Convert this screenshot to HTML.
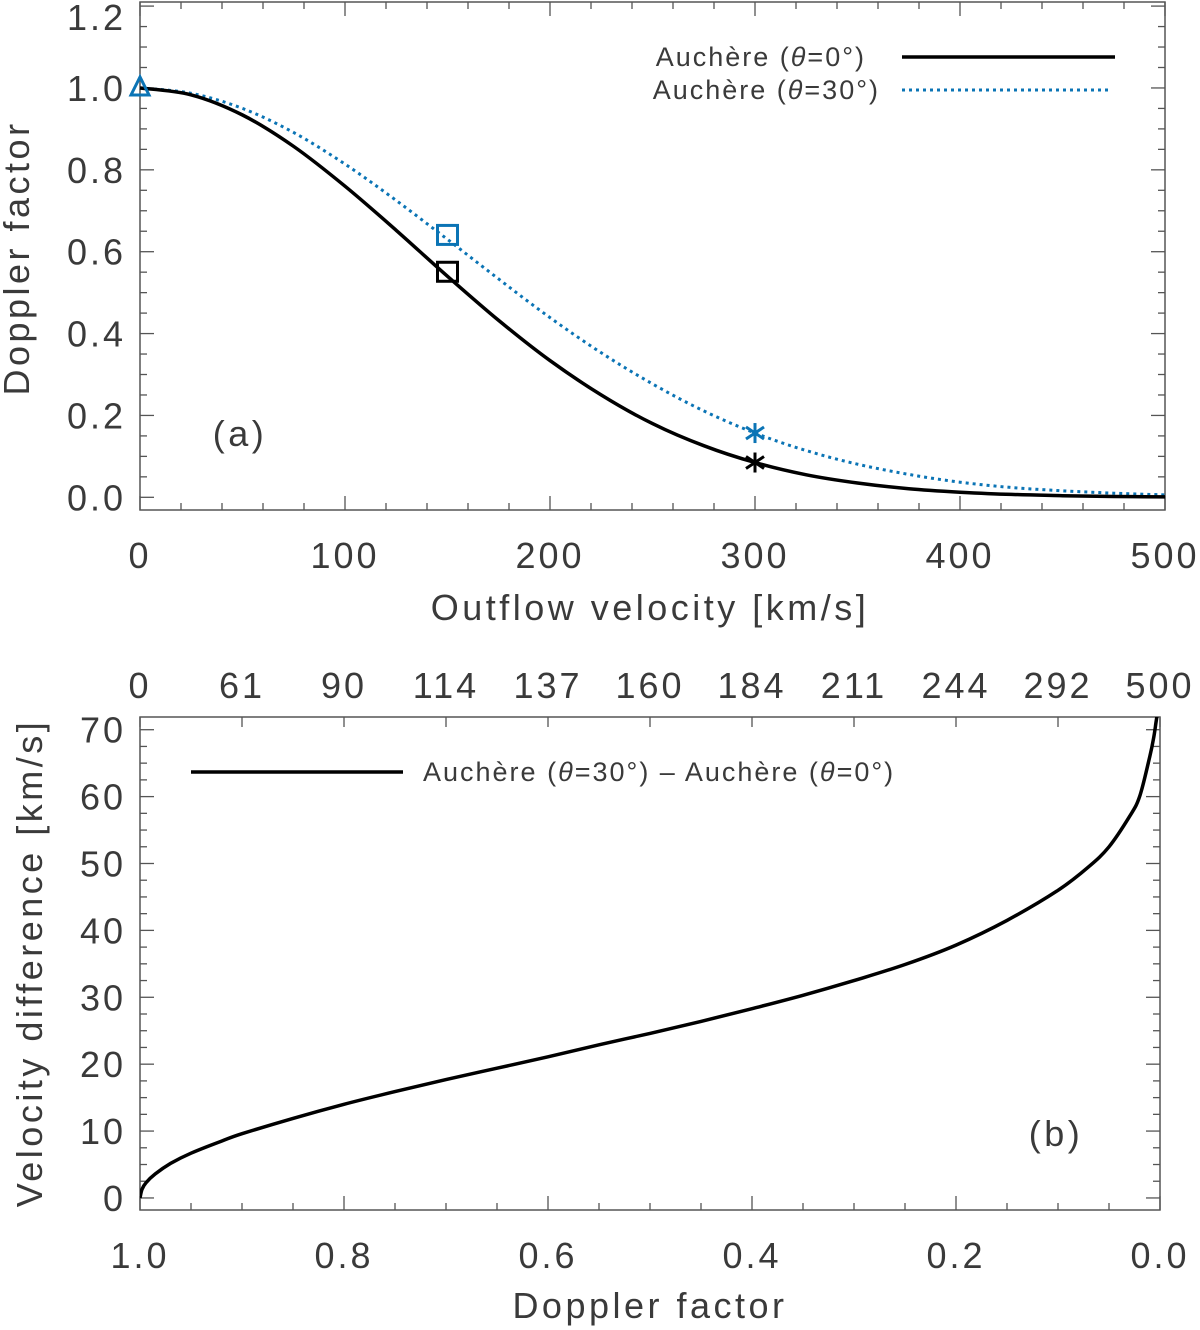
<!DOCTYPE html>
<html><head><meta charset="utf-8"><style>
html,body{margin:0;padding:0;background:#fff;}
svg{display:block;}
text{font-family:"Liberation Sans",sans-serif;fill:#3a3a3a;}
.tk{font-size:36px;letter-spacing:3px;}
.tt{font-size:36px;letter-spacing:3.5px;}
.lg{font-size:27px;letter-spacing:2px;}
</style></head><body>
<svg id="fig" width="1200" height="1330" viewBox="0 0 1200 1330" xmlns="http://www.w3.org/2000/svg">
<g id="pa"></g>
<g id="pb"></g>
</svg>
<script>
// Panel (a) data
const velA = [0,25,50,75,100,125,150,175,200,225,250,275,300,325,350,375,400,425,450,475,500];
const dopp0 = [1,0.983,0.934,0.857,0.760,0.652,0.540,0.432,0.334,0.250,0.180,0.126,0.085,0.055,0.035,0.021,0.0125,0.007,0.004,0.002,0.001];
const dopp30 = [1,0.987,0.950,0.891,0.814,0.725,0.630,0.533,0.439,0.353,0.277,0.211,0.157,0.114,0.081,0.056,0.037,0.024,0.016,0.010,0.006];
const markerVel = [150,300];
const markerD0 = [0.540,0.085];
const markerD30 = [0.630,0.157];
const xTicksA = [0,100,200,300,400,500];
const yTicksA = ['0.0','0.2','0.4','0.6','0.8','1.0','1.2'];
// Panel (b) data
const doppB = [1.0,0.998,0.994,0.985,0.97,0.95,0.92,0.9,0.85,0.8,0.75,0.7,0.65,0.6,0.55,0.5,0.45,0.4,0.35,0.3,0.25,0.2,0.15,0.1,0.07,0.05,0.03,0.02,0.01,0.006,0.004,0.003];
const vdiff = [0,1.3,2.3,3.6,5.16,6.69,8.5,9.6,11.9,14.0,15.9,17.7,19.4,21.1,22.9,24.6,26.4,28.3,30.3,32.5,34.9,37.8,41.5,46.0,49.5,52.5,57,60,66,69,71,72];
const xTicksB = ['1.0','0.8','0.6','0.4','0.2','0.0'];
const topTicksB = ['0','61','90','114','137','160','184','211','244','292','500'];
const yTicksB = [0,10,20,30,40,50,60,70];

const NS='http://www.w3.org/2000/svg';
function mk(parent,tag,attrs){const e=document.createElementNS(NS,tag);for(const k in attrs)e.setAttribute(k,attrs[k]);parent.appendChild(e);return e;}
const BLUE='#0b74b5';
function smooth(xs,ys,fx,fy){const P=xs.map((x,i)=>[fx(x),fy(ys[i])]);let d='M'+P[0][0].toFixed(1)+','+P[0][1].toFixed(1);
 for(let i=0;i<P.length-1;i++){const p0=P[Math.max(0,i-1)],p1=P[i],p2=P[i+1],p3=P[Math.min(P.length-1,i+2)];
  const c1=[p1[0]+(p2[0]-p0[0])/6,p1[1]+(p2[1]-p0[1])/6],c2=[p2[0]-(p3[0]-p1[0])/6,p2[1]-(p3[1]-p1[1])/6];
  d+=` C${c1[0].toFixed(1)},${c1[1].toFixed(1)} ${c2[0].toFixed(1)},${c2[1].toFixed(1)} ${p2[0].toFixed(1)},${p2[1].toFixed(1)}`;}
 return d;}

// ---- Panel A ----
const pa=document.getElementById('pa');
const A={l:140,r:1165,t:2,b:510,x0:0,x1:500,y0:-0.031,y1:1.21};
const ax=v=>A.l+(v-A.x0)/(A.x1-A.x0)*(A.r-A.l);
const ay=v=>A.b-(v-A.y0)/(A.y1-A.y0)*(A.b-A.t);
let f=mk(pa,'rect',{x:A.l,y:A.t,width:A.r-A.l,height:A.b-A.t,fill:'none',stroke:'#555','stroke-width':1.5});


for(let v=0;v<=500;v+=20){const maj=v%100===0;const L=maj?14:7;
 mk(pa,'line',{x1:ax(v),x2:ax(v),y1:A.b,y2:A.b-L,stroke:'#555','stroke-width':1.3});
 mk(pa,'line',{x1:ax(v),x2:ax(v),y1:A.t,y2:A.t+L,stroke:'#555','stroke-width':1.3});}
for(let i=0;i<=24;i++){const v=i*0.05;const maj=i%4===0;const L=maj?14:7;
 mk(pa,'line',{x1:A.l,x2:A.l+L,y1:ay(v),y2:ay(v),stroke:'#555','stroke-width':1.3});
 mk(pa,'line',{x1:A.r,x2:A.r-L,y1:ay(v),y2:ay(v),stroke:'#555','stroke-width':1.3});}
xTicksA.forEach(v=>{const t=mk(pa,'text',{x:ax(v),y:568,'text-anchor':'middle',class:'tk'});t.textContent=v;
 
 });
yTicksA.forEach(s=>{const t=mk(pa,'text',{x:126,y:Math.max(30,ay(parseFloat(s))+13),'text-anchor':'end',class:'tk'});t.textContent=s;
 
 });
let t=mk(pa,'text',{x:650,y:620,'text-anchor':'middle',class:'tt'});t.textContent='Outflow velocity [km/s]';


t=mk(pa,'text',{x:0,y:0,'text-anchor':'middle',class:'tt',transform:'translate(29,258) rotate(-90)'});t.textContent='Doppler factor';


t=mk(pa,'text',{x:240,y:446,'text-anchor':'middle',class:'tt'});t.textContent='(a)';


let p=mk(pa,'path',{d:smooth(velA,dopp30,ax,ay),fill:'none',stroke:BLUE,'stroke-width':3,'stroke-dasharray':'3 4'});


p=mk(pa,'path',{d:smooth(velA,dopp0,ax,ay),fill:'none',stroke:'#000','stroke-width':3.5});


// markers
let m=mk(pa,'path',{d:`M${ax(0)},${ay(1)-11} L${ax(0)+9},${ay(1)+7} L${ax(0)-9},${ay(1)+7} Z`,fill:'none',stroke:BLUE,'stroke-width':3});


function square(x,y,c,name){const e=mk(pa,'rect',{x:x-10,y:y-14,width:20,height:19,fill:'none',stroke:c,'stroke-width':3});
 
 }
function star(x,y,c,name){const g=mk(pa,'g',{stroke:c,'stroke-width':3});
 
 
 [[0,-10,0,10],[-9,-6,9,6],[-9,6,9,-6]].forEach(q=>mk(g,'line',{x1:x+q[0],y1:y+q[1],x2:x+q[2],y2:y+q[3]}));}
square(ax(markerVel[0]),ay(markerD30[0]),BLUE,'square-marker-theta-30');
square(ax(markerVel[0]),ay(markerD0[0]),'#000','square-marker-theta-0');
star(ax(markerVel[1]),ay(markerD30[1]),BLUE,'asterisk-marker-theta-30');
star(ax(markerVel[1]),ay(markerD0[1]),'#000','asterisk-marker-theta-0');
// legend
let lg=mk(pa,'g',{});


t=mk(lg,'text',{x:866,y:66,'text-anchor':'end',class:'lg'});t.innerHTML='Auchère (<tspan font-style="italic">θ</tspan>=0°)';
mk(lg,'line',{x1:902,x2:1115,y1:57,y2:57,stroke:'#000','stroke-width':3.5});
t=mk(lg,'text',{x:880,y:99,'text-anchor':'end',class:'lg'});t.innerHTML='Auchère (<tspan font-style="italic">θ</tspan>=30°)';
mk(lg,'line',{x1:902,x2:1112,y1:90,y2:90,stroke:BLUE,'stroke-width':3,'stroke-dasharray':'3 4'});

// ---- Panel B ----
const pb=document.getElementById('pb');
const B={l:140,r:1160,t:717,b:1210,x0:1,x1:0,y0:-1.8,y1:71.9};
const bx=v=>B.l+(v-B.x0)/(B.x1-B.x0)*(B.r-B.l);
const by=v=>B.b-(v-B.y0)/(B.y1-B.y0)*(B.b-B.t);
f=mk(pb,'rect',{x:B.l,y:B.t,width:B.r-B.l,height:B.b-B.t,fill:'none',stroke:'#555','stroke-width':1.5});


for(let i=0;i<=20;i++){const v=i*0.05;const maj=i%4===0;const L=maj?14:7;
 mk(pb,'line',{x1:bx(v),x2:bx(v),y1:B.b,y2:B.b-L,stroke:'#555','stroke-width':1.3});}
for(let i=0;i<=10;i++){mk(pb,'line',{x1:bx(i/10),x2:bx(i/10),y1:B.t,y2:B.t+10,stroke:'#555','stroke-width':1.3});}
for(let i=0;i<=28;i++){const v=i*2.5;const maj=i%4===0;const L=maj?14:7;
 mk(pb,'line',{x1:B.l,x2:B.l+L,y1:by(v),y2:by(v),stroke:'#555','stroke-width':1.3});
 mk(pb,'line',{x1:B.r,x2:B.r-L,y1:by(v),y2:by(v),stroke:'#555','stroke-width':1.3});}
xTicksB.forEach(s=>{const t=mk(pb,'text',{x:bx(parseFloat(s)),y:1268,'text-anchor':'middle',class:'tk'});t.textContent=s;
 
 });
topTicksB.forEach((s,i)=>{const t=mk(pb,'text',{x:bx(1-i/10),y:698,'text-anchor':'middle',class:'tk'});t.textContent=s;
 
 });
yTicksB.forEach(v=>{const t=mk(pb,'text',{x:126,y:by(v)+13,'text-anchor':'end',class:'tk'});t.textContent=v;
 
 });
t=mk(pb,'text',{x:650,y:1318,'text-anchor':'middle',class:'tt'});t.textContent='Doppler factor';


t=mk(pb,'text',{x:0,y:0,'text-anchor':'middle',class:'tt',transform:'translate(42,963) rotate(-90)'});t.textContent='Velocity difference [km/s]';


t=mk(pb,'text',{x:1056,y:1146,'text-anchor':'middle',class:'tt'});t.textContent='(b)';


mk(pb,'clipPath',{id:'cb'});
mk(document.getElementById('cb'),'rect',{x:B.l,y:B.t,width:B.r-B.l,height:B.b-B.t});
p=mk(pb,'path',{d:smooth(doppB,vdiff,bx,by),fill:'none',stroke:'#000','stroke-width':3.5,'clip-path':'url(#cb)'});


lg=mk(pb,'g',{});


mk(lg,'line',{x1:191,x2:403,y1:772,y2:772,stroke:'#000','stroke-width':3.5});
t=mk(lg,'text',{x:423,y:781,class:'lg'});t.innerHTML='Auchère (<tspan font-style="italic">θ</tspan>=30°) – Auchère (<tspan font-style="italic">θ</tspan>=0°)';
</script>
</body></html>
